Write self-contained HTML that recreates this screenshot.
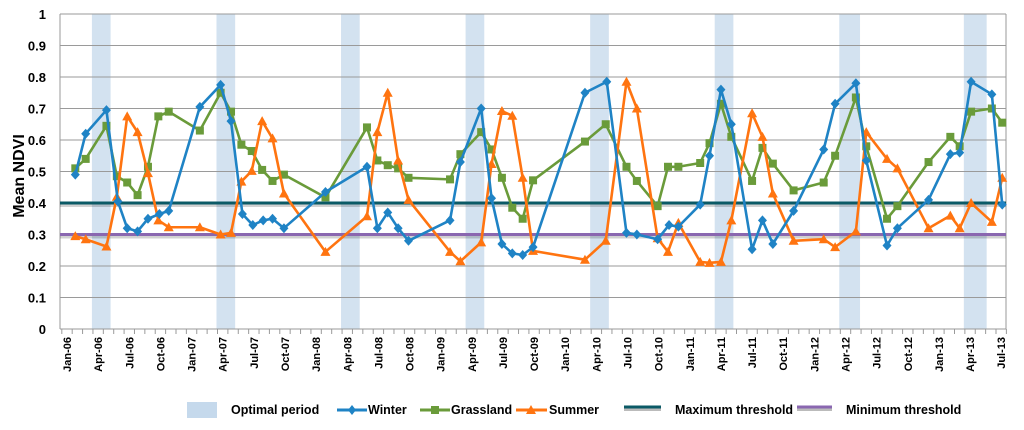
<!DOCTYPE html>
<html><head><meta charset="utf-8"><style>
html,body{margin:0;padding:0;background:#fff;width:1024px;height:430px;overflow:hidden}
svg{font-family:"Liberation Sans",sans-serif;font-weight:bold}
.lg{font-family:"Liberation Sans Narrow","Liberation Sans",sans-serif;font-size:12.5px;font-weight:bold}
</style></head><body>
<svg id="chart" width="1024" height="430" viewBox="0 0 1024 430">
<g id="bands"></g>
<g id="grid"></g>
<g id="thr"></g>
<g id="series"></g>
<g id="axes"></g>
<text transform="translate(24,176) rotate(-90)" text-anchor="middle" font-size="16">Mean NDVI</text>
<g>
<g><rect x="187" y="402" width="30" height="16" fill="#c5d9ec"/><text class="lg" x="231" y="414">Optimal period</text></g>
<g><line x1="337" y1="410" x2="367" y2="410" stroke="#1f83c5" stroke-width="3"/><path d="M352 405 L356 410 L352 415 L348 410Z" fill="#1f83c5"/><text class="lg" x="368" y="414">Winter</text></g>
<g><line x1="420" y1="410" x2="450" y2="410" stroke="#6a9b3a" stroke-width="3"/><rect x="431" y="406" width="8" height="8" fill="#6a9b3a"/><text class="lg" x="451" y="414">Grassland</text></g>
<g><line x1="516" y1="410" x2="547" y2="410" stroke="#ff7410" stroke-width="3"/><path d="M531 405 L536 414 L526 414Z" fill="#ff7410"/><text class="lg" x="549" y="414">Summer</text></g>
<g><line x1="624" y1="409.5" x2="661" y2="409.5" stroke="#bbbbbb" stroke-width="3"/><line x1="624" y1="407" x2="661" y2="407" stroke="#0b5a66" stroke-width="3"/><text class="lg" x="675" y="414">Maximum threshold</text></g>
<g><line x1="797" y1="409.5" x2="832" y2="409.5" stroke="#bbbbbb" stroke-width="3"/><line x1="797" y1="407" x2="832" y2="407" stroke="#8a67b0" stroke-width="3"/><text class="lg" x="846" y="414">Minimum threshold</text></g>
</g>
</svg>
<script>
// months since Jan-06
const winterMonths=[0.8,1.8,3.8,4.9,5.8,6.8,7.8,8.9,9.8,12.8,14.8,15.8,16.9,17.9,18.9,19.8,20.9,24.9,28.9,29.9,30.9,31.9,32.9,36.9,37.9,39.9,40.9,41.9,42.9,43.9,44.9,49.9,52,53.9,54.9,56.9,58,58.9,61,61.9,63,64,66,67,68,70,72.9,74,76,77,79,80,83,85.1,86,87.1,89.1,90.1];
const winterValues=[0.49,0.62,0.695,0.405,0.32,0.31,0.35,0.365,0.375,0.705,0.775,0.66,0.365,0.33,0.345,0.35,0.32,0.435,0.515,0.32,0.37,0.32,0.28,0.345,0.53,0.7,0.415,0.27,0.24,0.235,0.26,0.75,0.785,0.305,0.3,0.285,0.33,0.325,0.395,0.55,0.76,0.65,0.253,0.345,0.27,0.375,0.57,0.715,0.78,0.535,0.265,0.32,0.41,0.555,0.56,0.785,0.745,0.395];
const grassMonths=[0.8,1.8,3.8,4.8,5.8,6.8,7.8,8.8,9.8,12.8,14.8,15.8,16.8,17.8,18.8,19.8,20.9,24.9,28.9,29.9,30.9,31.9,32.9,36.9,37.9,39.9,40.9,41.9,42.9,43.9,44.9,49.9,51.9,53.9,54.9,56.9,57.9,58.9,61,61.9,63,64,66,67,68,70,72.9,74,76,77,79,80,83,85.1,86,87.1,89.1,90.1];
const grassValues=[0.51,0.54,0.645,0.485,0.465,0.425,0.515,0.675,0.69,0.63,0.75,0.69,0.585,0.565,0.505,0.47,0.49,0.418,0.64,0.535,0.52,0.51,0.48,0.475,0.555,0.625,0.57,0.48,0.385,0.35,0.472,0.595,0.65,0.515,0.47,0.39,0.515,0.515,0.527,0.59,0.715,0.61,0.47,0.575,0.525,0.44,0.465,0.55,0.735,0.58,0.35,0.39,0.53,0.61,0.58,0.69,0.7,0.655];
const summerMonths=[0.8,1.8,3.8,4.8,5.8,6.8,7.8,8.8,9.8,12.8,14.8,15.8,16.8,17.8,18.8,19.8,20.9,24.9,28.9,29.9,30.9,31.9,32.9,36.9,37.9,39.9,40.9,41.9,42.9,43.9,44.9,49.9,51.9,53.9,54.9,56.9,57.9,58.9,61,61.9,63,64,66,67,68,70,72.9,74,76,77,79,80,83,85.1,86,87.1,89.1,90.1];
const summerValues=[0.295,0.285,0.262,0.42,0.675,0.625,0.495,0.345,0.323,0.323,0.3,0.305,0.468,0.502,0.66,0.605,0.43,0.245,0.358,0.625,0.75,0.535,0.41,0.245,0.215,0.275,0.524,0.692,0.677,0.48,0.248,0.22,0.28,0.785,0.7,0.288,0.245,0.337,0.213,0.21,0.213,0.345,0.685,0.61,0.43,0.28,0.285,0.26,0.31,0.625,0.54,0.51,0.32,0.36,0.32,0.4,0.34,0.48];
const bandStart=[2.4,14.4,26.4,38.4,50.4,62.4,74.4,86.4];
const bandEnd=[4.2,16.2,28.2,40.2,52.2,64.2,76.4,88.6];
const yTicks=[0,0.1,0.2,0.3,0.4,0.5,0.6,0.7,0.8,0.9,1];
const yTickLabels=["0","0.1","0.2","0.3","0.4","0.5","0.6","0.7","0.8","0.9","1"];
const xLabels=["Jan-06","Apr-06","Jul-06","Oct-06","Jan-07","Apr-07","Jul-07","Oct-07","Jan-08","Apr-08","Jul-08","Oct-08","Jan-09","Apr-09","Jul-09","Oct-09","Jan-10","Apr-10","Jul-10","Oct-10","Jan-11","Apr-11","Jul-11","Oct-11","Jan-12","Apr-12","Jul-12","Oct-12","Jan-13","Apr-13","Jul-13"];
const maxThreshold=0.4, minThreshold=0.3;

const L=60,R=1006,T=14,B=329;
const xS=m=>67+m*10.38;
const yS=v=>B-(B-T)*v;
const NS="http://www.w3.org/2000/svg";
function mk(tag,attrs,parent){const e=document.createElementNS(NS,tag);for(const k in attrs)e.setAttribute(k,attrs[k]);parent.appendChild(e);return e;}
const bands=document.getElementById('bands'),grid=document.getElementById('grid'),axes=document.getElementById('axes'),series=document.getElementById('series'),thr=document.getElementById('thr');
bandStart.forEach((s,i)=>{
 const r=mk('rect',{x:xS(s),y:T,width:xS(bandEnd[i])-xS(s),height:B-T,fill:'#d3e2f0'},bands);
 
 
});
yTicks.forEach((v,i)=>{
 const l=mk('line',{x1:L,x2:R,y1:yS(v),y2:yS(v),stroke:'#9a9a9a','stroke-width':1},grid);
 
 
 const t=mk('text',{x:46,y:yS(v)+5,'text-anchor':'end','font-size':'13'},axes);
 t.textContent=yTickLabels[i];
 
 
});
mk('line',{x1:L,x2:L,y1:T,y2:B,stroke:'#9a9a9a'},grid);
mk('line',{x1:R,x2:R,y1:T,y2:B,stroke:'#9a9a9a'},grid);
for(let m=-0.5;m<=91;m+=1){mk('line',{x1:xS(m),x2:xS(m),y1:B,y2:B+5,stroke:'#9a9a9a'},axes);}
xLabels.forEach((s,i)=>{
 const x=xS(i*3)+4;
 const t=mk('text',{transform:`translate(${x},337) rotate(-90)`,'text-anchor':'end','font-size':'11'},axes);
 t.textContent=s;
 
 
});
mk('line',{x1:L,x2:R,y1:yS(maxThreshold)+2.5,y2:yS(maxThreshold)+2.5,stroke:'#000','stroke-opacity':0.18,'stroke-width':3},thr);
const a=mk('line',{x1:L,x2:R,y1:yS(maxThreshold),y2:yS(maxThreshold),stroke:'#0b5a66','stroke-width':3},thr);


mk('line',{x1:L,x2:R,y1:yS(minThreshold)+2.5,y2:yS(minThreshold)+2.5,stroke:'#000','stroke-opacity':0.18,'stroke-width':3},thr);
const b=mk('line',{x1:L,x2:R,y1:yS(minThreshold),y2:yS(minThreshold),stroke:'#8a67b0','stroke-width':3},thr);


function draw(ms,vs,color,shape,name){
 const g=mk('g',{},series);
 
 
 const p=mk('polyline',{points:ms.map((m,i)=>xS(m)+','+yS(vs[i])).join(' '),fill:'none',stroke:color,'stroke-width':2.6,'stroke-linejoin':'round'},g);
 
 
 ms.forEach((m,i)=>{
  const x=xS(m),y=yS(vs[i]);let d;
  if(shape==='d')d=`M${x} ${y-5}L${x+4.5} ${y}L${x} ${y+5}L${x-4.5} ${y}Z`;
  else if(shape==='s')d=`M${x-4} ${y-4}h8v8h-8Z`;
  else d=`M${x} ${y-5}L${x+5} ${y+4}L${x-5} ${y+4}Z`;
  const e=mk('path',{d:d,fill:color},g);
  
  
 });
}
draw(grassMonths,grassValues,'#6a9b3a','s','grassland');
draw(summerMonths,summerValues,'#ff7410','t','summer');
draw(winterMonths,winterValues,'#1f83c5','d','winter');
</script>
</body></html>
